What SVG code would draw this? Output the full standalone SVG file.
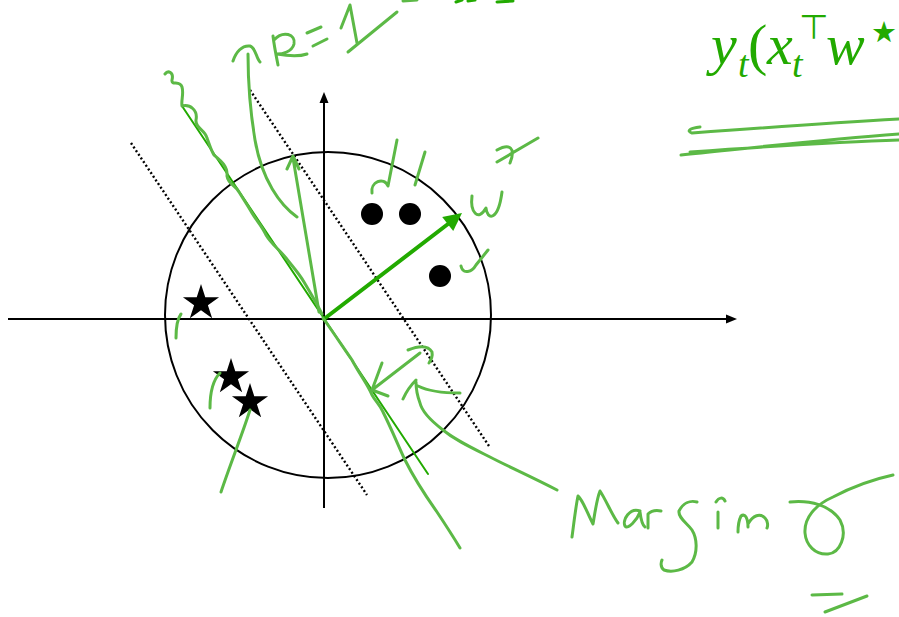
<svg xmlns="http://www.w3.org/2000/svg" width="899" height="617" viewBox="0 0 899 617">
<defs>
<polygon id="star" points="0,-19 4.27,-5.87 18.07,-5.87 6.9,2.24 11.17,15.37 0,7.26 -11.17,15.37 -6.9,2.24 -18.07,-5.87 -4.27,-5.87" fill="#000"/>
</defs>
<style>
.ax{stroke:#000;stroke-width:2;fill:none}
.dt{stroke:#000;stroke-width:2.4;stroke-dasharray:2 2.4;fill:none}
.hw{fill:none;stroke:#5cb946;stroke-width:3;stroke-linecap:round;stroke-linejoin:round}
.dg{fill:none;stroke:#22aa00;stroke-linecap:round}
.f{font-family:"Liberation Serif","Times New Roman",serif;fill:#22aa00}
</style>
<rect width="899" height="617" fill="#fff"/>
<g id="axes">
<path class="ax" d="M8,319 L727,319"/>
<polygon points="737,319 726,314.5 726,323.5" fill="#000"/>
<path class="ax" d="M324,508 L324,102"/>
<polygon points="324,92 319.5,103 328.5,103" fill="#000"/>
</g>
<g id="ball"><circle class="ax" cx="328" cy="315" r="163"/></g>
<g id="margins">
<path class="dt" d="M250,90 L489,446"/>
<path class="dt" d="M131,143 L367,495"/>
</g>
<g id="positives">
<circle cx="372" cy="214" r="11"/>
<circle cx="410" cy="214" r="11"/>
<circle cx="440" cy="276" r="11"/>
</g>
<g id="negatives">
<use href="#star" x="201" y="303"/>
<use href="#star" x="231" y="377"/>
<use href="#star" x="250" y="402"/>
</g>
<g id="boundary"><path class="dg" stroke-width="2" d="M182,106 L428,474"/></g>
<g id="wstar">
<path class="dg" stroke-width="4" d="M324,319 L448,224"/>
<polygon points="462,213 453.2,231.1 442.2,216.9" fill="#22aa00"/>
</g>
<g id="ink">
<path class="hw" d="M319,312 L293,158 M287,169 L293,156 L299,169"/>
<path class="hw" d="M297,217 C280,205 262,180 255,140 C250,110 248,80 248,54"/>
<path class="hw" d="M233,61 C236,52 242,45 250,46 C256,48 256,58 260,62"/>
<path class="hw" d="M278,65 C276,55 274,45 273,36 M274,40 C283,30 296,34 294,44 C292,52 282,54 277,54 C288,56 298,57 307,54"/>
<path class="hw" d="M307,33 L321,27 M313,46 L327,39"/>
<path class="hw" d="M341,28 L350,5 L357,43 M348,52 L397,12"/>
<path class="hw" d="M403,1 L417,0"/>
<path class="dg" stroke-width="3" d="M456,2 L462,0 M468,1 L475,0 M497,2 L513,1"/>
<path class="hw" d="M372,193 C370,182 384,176 388,186 L397,140 M425,152 L415,185"/>
<path class="hw" d="M472,196 C470,212 478,222 486,208 C487,220 498,222 502,192"/>
<path class="hw" d="M497,150 C510,143 516,148 510,163 M497,162 L538,138"/>
<path class="hw" d="M461,266 C463,275 472,272 476,265 L488,250"/>
<path class="hw" d="M181,314 C178,318 176,325 176,338"/>
<path class="hw" d="M220,373 C213,380 210,392 210,408 M250,410 C242,435 230,465 221,492"/>
<path class="hw" d="M165,74 C168,70 174,72 172,80 C171,86 180,80 182,87 C184,94 181,100 182,106 C190,104 198,110 196,120 C195,128 205,130 207,138 C210,146 211,150 214,155 C220,160 228,166 227,176 C228,184 236,186 239,192 C244,200 248,206 252,213 C256,220 262,226 266,235 C272,245 280,250 286,258 C292,266 298,272 304,282 C310,292 316,302 322,314"/>
<path class="hw" d="M323,318 C335,335 345,350 352,360 C360,375 368,385 372,395 C376,402 380,405 383,412 C392,430 398,445 405,460 C415,480 425,495 437,512 C447,527 454,538 460,548"/>
<path class="hw" d="M420,353 L372,390 M382,363 L372,390 L388,396 M408,350 C418,346 428,345 432,352 C433,357 431,360 429,363"/>
<path class="hw" d="M557,490 C530,476 505,465 490,457 C470,447 455,440 443,430 C430,420 422,412 420,403 C417,395 416,388 416,382 M403,399 C407,390 412,384 416,380 M418,386 C430,392 445,393 460,393"/>
<path class="hw" d="M700,127 C690,128 686,131 692,133 C760,128 830,123 899,119"/>
<path class="hw" d="M681,155 C750,148 820,140 899,134 M690,152 C760,147 830,142 899,140"/>
<path class="hw" d="M572,537 C574,522 576,505 578,496 C583,500 588,515 593,524 C595,512 597,498 600,491 C606,500 612,515 618,523"/>
<path class="hw" d="M640,511 C630,507 622,520 625,526 C628,530 637,520 640,512 C641,520 642,525 645,527"/>
<path class="hw" d="M648,528 L648,514 C652,510 656,510 661,511"/>
<path class="hw" d="M697,502 C690,500 683,503 679,511 C678,518 687,523 692,530 C697,538 698,552 692,562 C685,570 672,573 664,570 C660,567 661,562 662,560"/>
<path class="hw" d="M718,528 L718,512 M716,502 C719,497 723,497 725,501"/>
<path class="hw" d="M738,532 C738,525 739,520 741,516 C745,513 748,518 748,527 M748,524 C753,515 760,513 765,518 C768,521 768,526 767,528"/>
<path class="hw" d="M790,502 C810,500 830,505 840,520 C848,535 840,553 828,554 C815,555 806,545 805,533 C804,518 815,505 833,497 C850,488 870,480 893,475"/>
<path class="hw" d="M812,595 L842,594 M825,612 L867,596"/>
</g>
<g id="formula">
<text class="f" font-style="italic" font-size="58" x="711" y="64">y</text>
<text class="f" font-style="italic" font-size="38" x="738" y="77">t</text>
<text class="f" font-size="58" x="748" y="64">(</text>
<text class="f" font-style="italic" font-size="58" x="767" y="64">x</text>
<text class="f" font-style="italic" font-size="38" x="792" y="77">t</text>
<text font-family="DejaVu Sans, sans-serif" fill="#22aa00" font-size="34" x="799" y="39">⊤</text>
<text class="f" font-style="italic" font-size="58" x="826" y="64">w</text>
<text font-family="DejaVu Sans, sans-serif" fill="#22aa00" font-size="29" x="871" y="42">★</text>
</g>
</svg>
